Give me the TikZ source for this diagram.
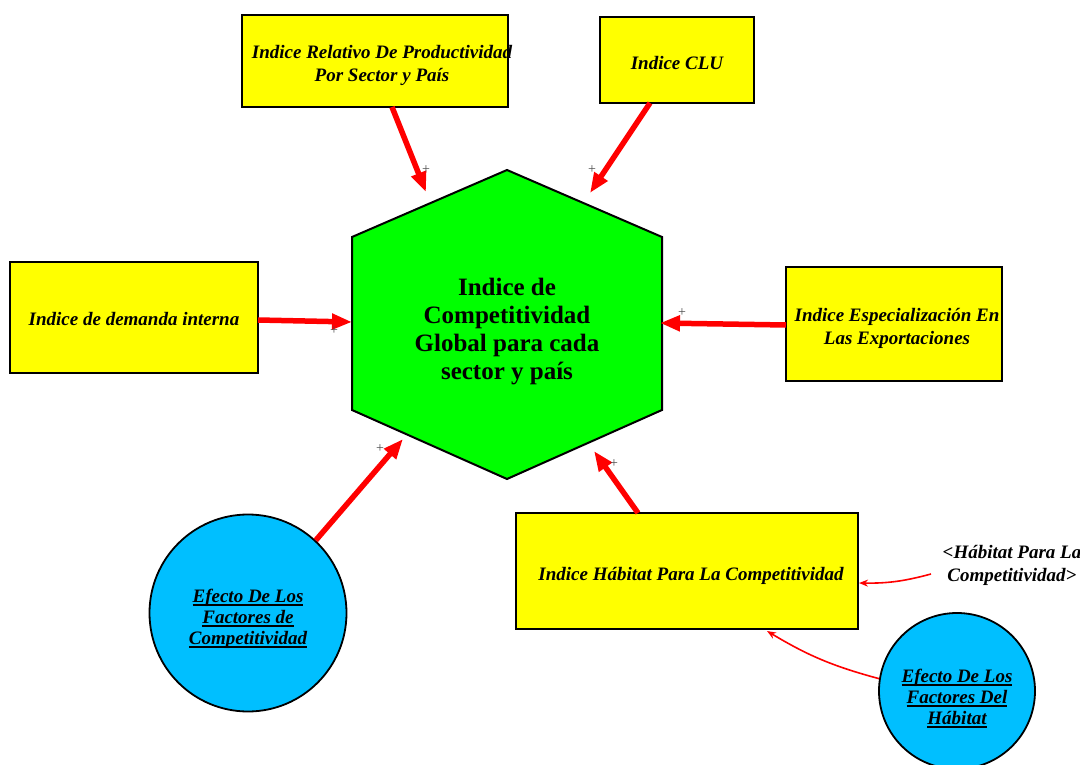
\documentclass[tikz,border=0pt]{standalone}
\usepackage{fontspec}
\setmainfont{Liberation Serif}
\usetikzlibrary{arrows.meta}
% thick underline for the circle captions
\newcommand\ulline[1]{\setbox0\hbox{#1}\rlap{\rule[-3.5pt]{\wd0}{2pt}}\box0}
\definecolor{boxyellow}{RGB}{255,255,0}
\definecolor{hexgreen}{RGB}{0,255,0}
\definecolor{skyc}{RGB}{0,191,255}
\definecolor{arrred}{RGB}{255,0,0}
\begin{document}
\begin{tikzpicture}[x=1pt,y=-1pt,
  txt/.style={font=\fontsize{19}{23}\selectfont\bfseries\itshape, align=center, inner sep=0pt},
  ctxt/.style={txt, font=\fontsize{19}{21}\selectfont\bfseries\itshape},
  box/.style={draw=black, line width=2pt, fill=boxyellow, inner sep=0pt},
  circ/.style={circle, draw=black, line width=1.8pt, fill=skyc, inner sep=0pt},
  big/.style={draw=arrred, line width=5.5pt, -{Triangle[length=20pt,width=15pt]}},
  slim/.style={draw=arrred, line width=1.6pt, -{Stealth[length=9pt,width=7pt]}},
  pm/.style={text=black!70, font=\fontsize{14}{14}\selectfont, inner sep=0pt}
]
\useasboundingbox (0,0) rectangle (1080,765);

% central hexagon
\coordinate (hT) at (507,170);
\coordinate (hUR) at (662,237);
\coordinate (hLR) at (662,410);
\coordinate (hB) at (507,479);
\coordinate (hLL) at (352,410);
\coordinate (hUL) at (352,237);
\draw[fill=hexgreen, line width=2pt, line join=miter] (hT) -- (hUR) -- (hLR) -- (hB) -- (hLL) -- (hUL) -- cycle;
\node[font=\fontsize{25}{28}\selectfont\bfseries, align=center] (hx) at (507,332)
  {Indice de\\Competitividad\\Global para cada\\sector y país};

% surrounding indicators: frames
\node[box, minimum width=266pt, minimum height=92pt] (b1) at (375,61) {};
\node[box, minimum width=154pt, minimum height=86pt] (b2) at (677,60) {};
\node[box, minimum width=248pt, minimum height=111pt] (b3) at (134,317.5) {};
\node[box, minimum width=216pt, minimum height=114pt] (b4) at (894,324) {};
\node[box, minimum width=342pt, minimum height=116pt] (b5) at (687,571) {};
\node[circ, minimum size=197pt] (c1) at (248,613) {};
\node[circ, minimum size=156pt] (c2) at (957,691) {};

% captions
\node[txt] (b1t) at (382,65) {Indice Relativo De Productividad\\Por Sector y País};
\node[txt] (b2t) at (677,63) {Indice CLU};
\node[txt] (b3t) at (134,319.5) {Indice de demanda interna};
\node[txt] (b4t) at (897,328) {Indice Especialización En\\Las Exportaciones};
\node[txt] (b5t) at (691,576) {Indice Hábitat Para La Competitividad};
\node[ctxt] (c1t) at (248,619) {\ulline{Efecto De Los}\\\ulline{Factores de}\\\ulline{Competitividad}};
\node[ctxt] (c2t) at (957,699) {\ulline{Efecto De Los}\\\ulline{Factores Del}\\\ulline{Hábitat}};
\node[txt] (t) at (1012,565) {<Hábitat Para La\\Competitividad>};

% arrow ends
\coordinate (e1) at (426,192);
\coordinate (e2) at (590,193);
\coordinate (e3) at (352,322);
\coordinate (e4) at (660,323);
\coordinate (e5) at (403,439);
\coordinate (e6) at (594,451);
\coordinate (s1) at (392,107);
\coordinate (s2) at (650,103);
\coordinate (s3) at (258,320);
\coordinate (s4) at (786,325);
\coordinate (s6) at (638,513);
\coordinate (s7) at (931,574);
\coordinate (e7) at (859,583);
\coordinate (e8) at (767,631);

\draw[big] (s1) -- (e1);
\draw[big] (s2) -- (e2);
\draw[big] (s3) -- (e3);
\draw[big] (s4) -- (e4);
\draw[big] (c1.47) -- (e5);
\draw[big] (s6) -- (e6);
\draw[slim] (s7) to[bend left=8] (e7);
\draw[slim] (c2.171) to[bend left=8] (e8);

% polarity marks
\node[pm] (m1) at (426,170) {+};
\node[pm] (m2) at (592,170) {+};
\node[pm] (m3) at (334,331) {+};
\node[pm] (m4) at (682,313) {+};
\node[pm] (m5) at (380,449) {+};
\node[pm] (m6) at (614,464) {+};
\end{tikzpicture}
\end{document}
